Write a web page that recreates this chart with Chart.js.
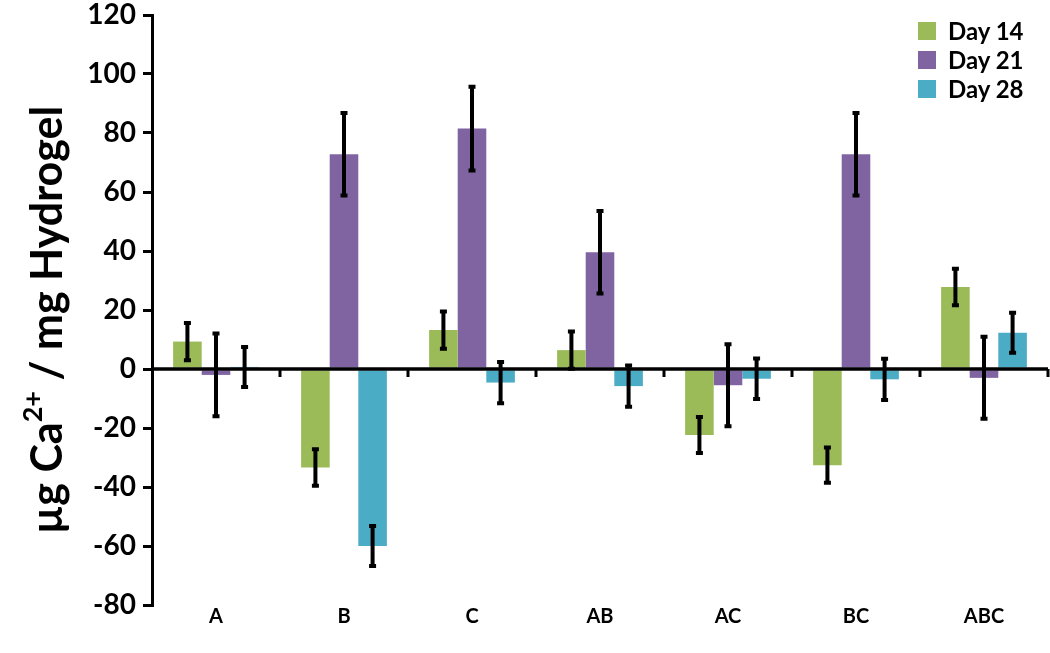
<!DOCTYPE html>
<html>
<head>
<meta charset="utf-8">
<script src="https://cdn.jsdelivr.net/npm/chart.js@4.4.1/dist/chart.umd.min.js"></script>
<style>
  html, body { margin: 0; padding: 0; background: #fff; }
  #wrap { position: relative; width: 1050px; height: 653px; }
  #legend { position: absolute; left: 918px; top: 16px; font-family: Lato, "Open Sans", sans-serif; font-weight: bold; font-size: 24px; color: #000; }
  #legend .item { display: flex; align-items: center; height: 29px; }
  #legend .box { width: 18px; height: 18px; margin-right: 12px; }
</style>
</head>
<body>
<div id="wrap">
  <canvas id="c" width="1050" height="653"></canvas>
  <div id="legend"></div>
</div>
<script>
const categories = ['A', 'B', 'C', 'AB', 'AC', 'BC', 'ABC'];
const seriesLabels = ['Day 14', 'Day 21', 'Day 28'];
const day14 = [9.3, -33.4, 13.2, 6.4, -22.4, -32.6, 27.8];
const day14Err = [6.3, 6.2, 6.3, 6.3, 6.1, 6.0, 6.2];
const day21 = [-2, 72.8, 81.5, 39.6, -5.5, 72.8, -3];
const day21Err = [14, 14, 14.2, 14, 13.9, 14, 13.9];
const day28 = [0.7, -60, -4.6, -5.8, -3.3, -3.5, 12.3];
const day28Err = [6.8, 6.8, 7, 7, 6.9, 7, 6.8];
const yTicks = { min: -80, max: 120, step: 20 };
const colors = ['#9BBB59', '#8064A2', '#4BACC6'];

const errorBars = {
  id: 'errorBars',
  afterDatasetsDraw(chart) {
    const ctx = chart.ctx;
    const y = chart.scales.y;
    ctx.save();
    ctx.strokeStyle = '#000';
    chart.data.datasets.forEach((ds, di) => {
      const meta = chart.getDatasetMeta(di);
      meta.data.forEach((bar, i) => {
        const v = ds.data[i], e = ds.errors[i];
        const yt = y.getPixelForValue(v + e), yb = y.getPixelForValue(v - e);
        ctx.lineWidth = 4;
        ctx.beginPath(); ctx.moveTo(bar.x, yt); ctx.lineTo(bar.x, yb); ctx.stroke();
        ctx.lineWidth = 4;
        ctx.beginPath();
        ctx.moveTo(bar.x - 3.5, yt); ctx.lineTo(bar.x + 3.5, yt);
        ctx.moveTo(bar.x - 3.5, yb); ctx.lineTo(bar.x + 3.5, yb);
        ctx.stroke();
      });
    });
    ctx.restore();
  }
};

const zeroAxis = {
  id: 'zeroAxis',
  afterDatasetsDraw(chart) {
    const ctx = chart.ctx;
    const x = chart.scales.x, y = chart.scales.y;
    const y0 = y.getPixelForValue(0);
    ctx.save();
    ctx.strokeStyle = '#000';
    ctx.lineWidth = 3.5;
    ctx.beginPath(); ctx.moveTo(x.left, y0); ctx.lineTo(x.right, y0); ctx.stroke();
    const n = categories.length;
    ctx.lineWidth = 3;
    ctx.beginPath();
    for (let i = 1; i <= n; i++) {
      const px = x.left + (x.right - x.left) * i / n;
      ctx.moveTo(px, y0); ctx.lineTo(px, y0 + 8);
    }
    ctx.stroke();
    ctx.restore();
  }
};

const yTitle = {
  id: 'yTitle',
  afterDraw(chart) {
    const ctx = chart.ctx;
    const fam = 'Lato, "Open Sans", sans-serif';
    const big = 'bold 43px ' + fam, small = 'bold 27px ' + fam;
    const parts = [['µg Ca', big, 0], ['2+', small, -15], [' / mg Hydrogel', big, 0]];
    ctx.save();
    let total = 0;
    parts.forEach(p => { ctx.font = p[1]; total += ctx.measureText(p[0]).width; });
    ctx.translate(46, 320);
    ctx.rotate(-Math.PI / 2);
    ctx.fillStyle = '#000';
    ctx.textBaseline = 'middle';
    let xx = -total / 2;
    parts.forEach(p => {
      ctx.font = p[1];
      ctx.fillText(p[0], xx, p[2] + 2);
      xx += ctx.measureText(p[0]).width;
    });
    ctx.restore();
  }
};

const chart = new Chart(document.getElementById('c'), {
  type: 'bar',
  data: {
    labels: categories,
    datasets: [
      { label: seriesLabels[0], data: day14, errors: day14Err, backgroundColor: colors[0] },
      { label: seriesLabels[1], data: day21, errors: day21Err, backgroundColor: colors[1] },
      { label: seriesLabels[2], data: day28, errors: day28Err, backgroundColor: colors[2] }
    ]
  },
  options: {
    responsive: false,
    animation: false,
    events: [],
    layout: { padding: { top: 15, right: 2, bottom: 18, left: 0 } },
    datasets: { bar: { categoryPercentage: 0.67, barPercentage: 1.0 } },
    plugins: {
      legend: { display: false },
      tooltip: { enabled: false }
    },
    scales: {
      x: {
        afterFit(scale) { scale.height = 30; scale.paddingLeft = 0; scale.paddingRight = 0; },
        grid: { display: false, drawTicks: false },
        border: { display: false },
        ticks: { color: '#000', padding: 0, font: { family: 'Lato, "Open Sans", sans-serif', weight: 'bold', size: 20 } }
      },
      y: {
        min: yTicks.min, max: yTicks.max,
        afterFit(scale) { scale.width = 152; scale.paddingTop = 0; scale.paddingBottom = 0; },
        ticks: { stepSize: yTicks.step, color: '#000', padding: 7, font: { family: 'Lato, "Open Sans", sans-serif', weight: 'bold', size: 28 } },
        grid: { drawOnChartArea: false, drawTicks: true, tickLength: 9, color: '#000', lineWidth: 3 },
        border: { display: true, color: '#000', width: 3 }
      }
    }
  },
  plugins: [errorBars, zeroAxis, yTitle]
});

const leg = document.getElementById('legend');
chart.data.datasets.forEach(ds => {
  const it = document.createElement('div'); it.className = 'item';
  const b = document.createElement('div'); b.className = 'box'; b.style.background = ds.backgroundColor;
  const t = document.createElement('span'); t.textContent = ds.label;
  it.appendChild(b); it.appendChild(t); leg.appendChild(it);
});
</script>
</body>
</html>
